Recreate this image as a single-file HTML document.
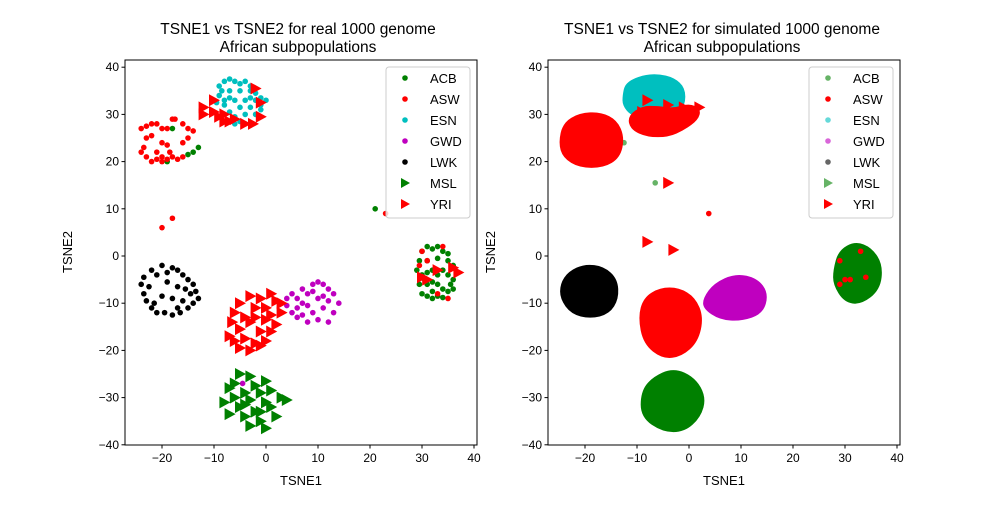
<!DOCTYPE html>
<html><head><meta charset="utf-8"><style>
body{margin:0;background:#fff;}
svg text{font-family:"Liberation Sans",sans-serif;}
</style></head><body>
<svg id="chart" width="1000" height="500" xmlns="http://www.w3.org/2000/svg"></svg>
<script>
// ---- Left (real) data ----
const realACB=[[-18,27],[-14,22],[-13,23],[-15,21.5],[-19,20],[21,10],[30,1],[31,2],[32,1.5],[33,2],[34,1],[35,0.5],[29.5,-1],[31,-1],[33,-0.5],[35,-1],[36,-2],[29,-3],[30,-4],[31,-3.5],[32,-3],[34,-3],[35,-4],[36,-5],[29.5,-6],[31,-6],[32,-5.5],[33,-6],[34,-7],[35,-7.5],[30,-8],[31,-8.5],[32,-9],[33,-8.5],[34,-8.8],[36,-7],[30.5,-5],[33,-4],[32,-7.5],[35.5,-6]];
const realASW=[[-24,27],[-23,27.5],[-22,28],[-21,28],[-20,27],[-19,27],[-18,29],[-17.5,29],[-16,28],[-15,27],[-14,26.5],[-23,25],[-22,25.5],[-20,24],[-19,23.5],[-23.5,23],[-24,22],[-23,21],[-22,20],[-21,20.5],[-20,20],[-19,20.5],[-18,21],[-17,20.5],[-16,21],[-18.5,22],[-16,24],[-15,25],[-20,21],[-21,22],[-20,6],[-18,8],[23,9],[30,1],[34,2],[31,-1],[29.5,-2],[33,-8],[35,-9]];
const realESN=[[-8,37],[-7,37.5],[-6,37],[-5,36.5],[-4,37],[-3,36],[-9,36],[-8.5,35],[-7,35],[-5,35],[-3,35],[-2,34.5],[-9,34],[-7,33.5],[-6,33],[-4,33],[-2,33],[-1,33.5],[0,33],[-9.5,32.5],[-8,32],[-5,31.5],[-3,31.5],[-1,31],[-7,30.5],[-6,29.5],[-4,30],[-2,30],[-5,28.5],[-4,28],[-6,28],[-8,33],[-3,33.5],[-1,32]];
const realGWD=[[4,-9],[5,-8],[6,-9],[7,-7],[8,-8],[9,-6],[10,-5.5],[11,-6],[12,-7],[13,-8],[6,-11],[8,-10.5],[10,-9],[12,-9.5],[14,-10],[5,-12],[7,-12.5],[9,-12],[11,-11],[13,-12],[8,-14],[10,-13.5],[12,-14],[6,-13],[9,-7.5],[11,-8.5],[4,-10.5],[7,-10],[-4.5,-27]];
const realLWK=[[-22,-3],[-20,-2],[-18,-2.5],[-17,-3],[-16,-4],[-15,-5],[-14,-6],[-13.5,-7.5],[-13,-9],[-14,-10],[-15,-11],[-16.5,-12],[-18,-12.5],[-19.5,-12],[-21,-12],[-22,-11],[-23,-9.5],[-23.5,-8],[-24,-6],[-23.5,-4.5],[-21,-4],[-19,-5.5],[-17,-6.5],[-15.5,-7],[-20,-8.5],[-18,-9],[-16,-9.5],[-21.5,-10],[-17,-11],[-14.5,-8],[-22.5,-6.5],[-19,-3.5]];
const realMSL=[[-5,-25],[-3,-25.5],[-6,-27],[-2,-27.5],[0,-26.5],[-7,-28],[-4,-29],[-1,-29],[1,-28.5],[-6,-30],[-3,-30.5],[0,-31],[3,-30],[-8,-31],[-5,-32],[-2,-33],[1,-32],[-7,-33.5],[-4,-34],[-1,-35],[-3,-36],[0,-36.5],[-4,-31.5],[-1,-33],[2,-34],[4,-30.5]];
const realYRI=[[-12,31.5],[-10,30.5],[-9,29.5],[-8,28.5],[-7,28.5],[-6,29],[-4,28],[-2.5,28],[-2,35.5],[-1,32.5],[-1,29.5],[-10,33],[-12,30],[-8,30],[-3,-8.5],[-1,-9],[1,-8],[2,-9.5],[-5,-10],[-2,-11],[0,-11],[3,-10],[-6,-12],[-4,-13],[1,-12.5],[3,-12],[-6.5,-14],[-3,-14],[0,-13.5],[2,-14.5],[-5,-15.5],[-1,-16],[1,-16],[-7,-17],[-4,-17.5],[-2,-18.5],[0,-18],[-5,-19.5],[-3,-20],[-1,-19],[-6,-18],[-2,-13],[31,-5],[33,-3],[36,-2.5],[37,-3.5],[30,-4.5]];
// ---- Right (simulated) data: blob outlines + stray points ----
const simESNHull=[[-12.5,34],[-12,36.5],[-9,38],[-6,38.3],[-3,37.5],[-1,35.5],[-1,32],[-3,29.5],[-7,28.5],[-11,30],[-12.5,32]];
const simYRIHull=[[-11.5,29.5],[-11,27],[-8,25.5],[-4,25.5],[-1,27],[1.5,29],[2,31],[0,32],[-3,31],[-6,31.5],[-9,31.5]];
const simYRIPts=[[-8,33],[-4,32],[-1,31.5],[2,31.5],[-9,30.5],[-4,15.5],[-8,3],[-3,1.3]];
const simASWHull=[[-24.8,24],[-24,28],[-21,30],[-17,30.2],[-14,28.5],[-12.7,25],[-13.5,21],[-16.5,19],[-21,19],[-24,21]];
const simASWHull2=[[-9.5,-13],[-8.5,-9],[-5.5,-7],[-2,-7],[1,-9],[2.5,-13],[1.5,-18],[-1.5,-21],[-5,-21.5],[-8.5,-18.5]];
const simASWPts=[[3.8,9],[29,-6],[30,-5],[31,-5],[34,-4.5],[33,1],[29,-1]];
const simLWKHull=[[-24.5,-6],[-23,-3.5],[-20,-2],[-16.5,-2.5],[-14,-5],[-13.8,-9],[-15.5,-12],[-19,-13],[-22.5,-12],[-24.5,-9]];
const simGWDHull=[[3,-9],[5,-6],[9,-4],[13,-5],[15,-8],[14,-12],[10,-13.5],[6,-13.2],[3,-11]];
const simMSLHull=[[-9,-29],[-7,-26],[-3,-24],[1,-26],[3,-30],[2,-34],[-1,-37],[-5,-37],[-9,-34]];
const simACBHull=[[28,-3],[29,1],[32,2.8],[35,1.5],[37,-2],[36.5,-7],[33,-10],[30,-9.5],[28,-6]];
const simACBPts=[[-12.5,24],[-6.5,15.5]];
const xTicks=[-20,-10,0,10,20,30,40];
const yTicks=[-40,-30,-20,-10,0,10,20,30,40];
const legendNames=["ACB","ASW","ESN","GWD","LWK","MSL","YRI"];

const NS="http://www.w3.org/2000/svg";
const svg=document.getElementById('chart');
function mk(tag,attrs,parent){const e=document.createElementNS(NS,tag);for(const k in attrs)e.setAttribute(k,attrs[k]);(parent||svg).appendChild(e);return e;}
function makeAxes(x0){
  const sx=v=>x0+v*5.2, sy=v=>256-v*4.72;
  return {sx,sy};
}
const panels=[{L:125,R:477,x0:266,title1:"TSNE1 vs TSNE2 for real 1000 genome",cx:298,name:"real"},
              {L:548,R:900,x0:689,title1:"TSNE1 vs TSNE2 for simulated 1000 genome",cx:722,name:"simulated"}];
function dot(ax,p,color,r,op,g){const c=mk('circle',{cx:ax.sx(p[0]),cy:ax.sy(p[1]),r:r,fill:color,'fill-opacity':op},g);

}
function tri(ax,p,color,g){const x=ax.sx(p[0]),y=ax.sy(p[1]);const t=mk('polygon',{points:`${x-5},${y-6} ${x+6},${y} ${x-5},${y+6}`,fill:color},g);

}
function hull(ax,pts,color,g){
  const P=pts.map(p=>[ax.sx(p[0]),ax.sy(p[1])]);const n=P.length;
  const mid=i=>{const a=P[i%n],b=P[(i+1)%n];return [(a[0]+b[0])/2,(a[1]+b[1])/2];};
  let m0=mid(0);let d='M'+m0[0]+','+m0[1];
  for(let i=1;i<=n;i++){const c=P[i%n],m=mid(i);d+=' Q'+c[0]+','+c[1]+' '+m[0]+','+m[1];}
  d+='Z';
  const h=mk('path',{d:d,fill:color,stroke:color,'stroke-width':3,'stroke-linejoin':'round'},g);
  
  }

panels.forEach((P,pi)=>{
  const ax=makeAxes(P.x0);
  const g=mk('g',{});
  
  
  const clip=mk('clipPath',{id:'c'+pi},g);mk('rect',{x:P.L,y:60,width:P.R-P.L,height:385},clip);
  const pg=mk('g',{'clip-path':`url(#c${pi})`},g);
  
  
  if(pi===0){
    realACB.forEach(p=>dot(ax,p,'#008000',2.8,1,pg));
    realASW.forEach(p=>dot(ax,p,'#ff0000',2.8,1,pg));
    realESN.forEach(p=>dot(ax,p,'#00bfbf',2.8,1,pg));
    realGWD.forEach(p=>dot(ax,p,'#bf00bf',2.8,1,pg));
    realLWK.forEach(p=>dot(ax,p,'#000000',2.8,1,pg));
    realMSL.forEach(p=>tri(ax,p,'#008000',pg));
    realYRI.forEach(p=>tri(ax,p,'#ff0000',pg));
  } else {
    hull(ax,simACBHull,'#008000',pg);
    simACBPts.forEach(p=>dot(ax,p,'#008000',2.8,0.6,pg));
    hull(ax,simASWHull,'#ff0000',pg);hull(ax,simASWHull2,'#ff0000',pg);
    simASWPts.forEach(p=>dot(ax,p,'#ff0000',2.8,1,pg));
    hull(ax,simESNHull,'#00bfbf',pg);
    hull(ax,simGWDHull,'#bf00bf',pg);
    hull(ax,simLWKHull,'#000000',pg);
    hull(ax,simMSLHull,'#008000',pg);
    hull(ax,simYRIHull,'#ff0000',pg);
    simYRIPts.forEach(p=>tri(ax,p,'#ff0000',pg));
  }
  mk('rect',{x:P.L,y:60,width:P.R-P.L,height:385,fill:'none',stroke:'#000','stroke-width':1},g);
  xTicks.forEach(t=>{const x=ax.sx(t);mk('line',{x1:x,x2:x,y1:445,y2:448.5,stroke:'#000'},g);
    const tx=mk('text',{x:x,y:462,'font-size':12,'text-anchor':'middle'},g);tx.textContent=t<0?'−'+(-t):t;
    
    });
  yTicks.forEach(t=>{const y=ax.sy(t);mk('line',{x1:P.L-3.5,x2:P.L,y1:y,y2:y,stroke:'#000'},g);
    const tx=mk('text',{x:P.L-6,y:y+4,'font-size':12,'text-anchor':'end'},g);tx.textContent=t<0?'−'+(-t):t;
    
    });
  const xl=mk('text',{x:(P.L+P.R)/2,y:485,'font-size':13,'text-anchor':'middle'},g);xl.textContent='TSNE1';
  
  
  const yx=P.L-53;
  const yl=mk('text',{x:yx,y:252,'font-size':13,'text-anchor':'middle',transform:`rotate(-90 ${yx} 252)`},g);yl.textContent='TSNE2';
  
  
  const t1=mk('text',{x:P.cx,y:34,'font-size':15.5,'text-anchor':'middle'},g);t1.textContent=P.title1;
  
  
  const t2=mk('text',{x:P.cx,y:52,'font-size':15.5,'text-anchor':'middle'},g);t2.textContent='African subpopulations';
  
  
  const lx=P.R-91;
  const lg=mk('g',{},g);
  
  
  mk('rect',{x:lx,y:67,width:84,height:151,rx:3,fill:'#fff','fill-opacity':0.8,stroke:'#ccc'},lg);
  const cols=['#008000','#ff0000','#00bfbf','#bf00bf','#000000','#008000','#ff0000'];
  legendNames.forEach((n,i)=>{const y=78+i*21;
    const op=(pi===1&&[0,2,3,4,5].includes(i))?0.6:1;
    if(i<5){mk('circle',{cx:lx+19,cy:y,r:2.8,fill:cols[i],'fill-opacity':op},lg);}
    else{mk('polygon',{points:`${lx+15},${y-5} ${lx+24},${y} ${lx+15},${y+5}`,fill:cols[i],'fill-opacity':op},lg);}
    const tx=mk('text',{x:lx+44,y:y+5,'font-size':13},lg);tx.textContent=n;
    
    });
});
</script>
</body></html>
